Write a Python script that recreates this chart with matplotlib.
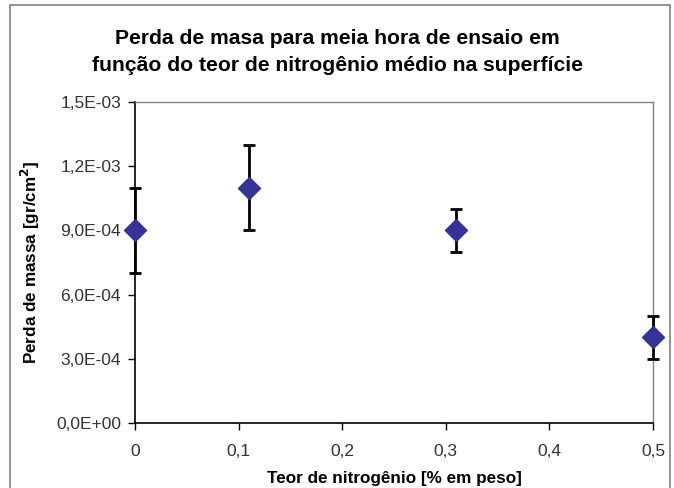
import matplotlib
matplotlib.use("Agg")
import matplotlib.pyplot as plt
from matplotlib.ticker import FuncFormatter, FixedLocator
from matplotlib.patches import Rectangle

plt.rcParams['font.family'] = ['Liberation Sans', 'DejaVu Sans']

# data
teor = [0.0, 0.11, 0.31, 0.5]
perda = [9.0e-4, 1.1e-3, 9.0e-4, 4.0e-4]
erro = [2.0e-4, 2.0e-4, 1.0e-4, 1.0e-4]

x_ticks = [0, 0.1, 0.2, 0.3, 0.4, 0.5]
y_ticks = [0, 3e-4, 6e-4, 9e-4, 1.2e-3, 1.5e-3]

fig = plt.figure(figsize=(6.74, 4.88), dpi=100)
ax = fig.add_axes([135/674, 1 - 423/488, (653 - 135)/674, (423 - 102)/488])

# chart area border (Excel style)
fig.patches.append(Rectangle((10/674, -0.05), (670 - 10)/674, 1.05 - 5/488,
                             transform=fig.transFigure, fill=False,
                             edgecolor='#808080', linewidth=1.2))

eb = ax.errorbar(teor, perda, yerr=erro, fmt='none', ecolor='black',
                 elinewidth=2, capsize=4, capthick=2, zorder=4)
for art in eb.lines[1] + eb.lines[2]:
    art.set_clip_on(False)
ax.plot(teor, perda, linestyle='none', marker='D', markersize=11.5,
        color='#333399', zorder=5, clip_on=False)

ax.set_xlim(0, 0.5)
ax.set_ylim(0, 1.5e-3)
ax.xaxis.set_major_locator(FixedLocator(x_ticks))
ax.yaxis.set_major_locator(FixedLocator(y_ticks))

ax.xaxis.set_major_formatter(FuncFormatter(lambda v, p: ('%g' % round(v, 2)).replace('.', ',')))
ax.yaxis.set_major_formatter(FuncFormatter(lambda v, p: ('%.1E' % v).replace('.', ',')))

for s in ['top', 'right']:
    ax.spines[s].set_color('#808080')
    ax.spines[s].set_linewidth(1)
for s in ['left', 'bottom']:
    ax.spines[s].set_color('black')
    ax.spines[s].set_linewidth(1.2)

ax.tick_params(direction='out', length=5, width=1, labelsize=12.5,
               labelcolor='#333333')
ax.tick_params(axis='x', pad=10)
ax.tick_params(axis='y', pad=5)

ax.set_xlabel('Teor de nitrogênio [% em peso]', fontsize=12.3, fontweight='bold', labelpad=9)
ax.set_ylabel('Perda de massa [gr/cm$^\\mathbf{2}$]', fontsize=12.3, fontweight='bold', labelpad=10)

fig.text(0.5, 1 - 52/488, 'Perda de masa para meia hora de ensaio em\n'
         'função do teor de nitrogênio médio na superfície',
         ha='center', va='center', fontsize=15.2, fontweight='bold', linespacing=1.5)

fig.savefig('out.png', dpi=100)
